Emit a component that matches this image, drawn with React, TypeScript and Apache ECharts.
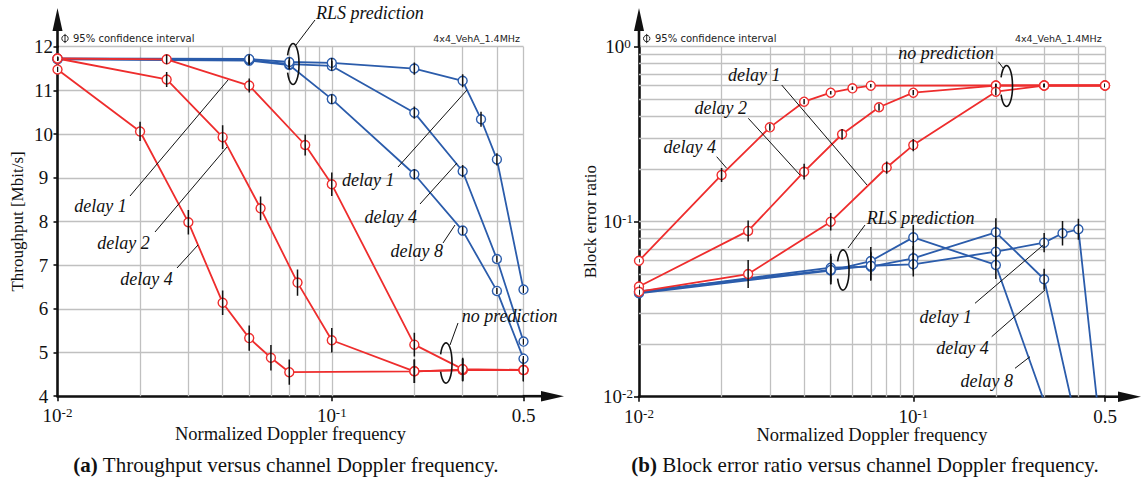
import React, { useEffect, useRef } from 'react';
import * as echarts from 'echarts';

const SERIF = '"Liberation Serif", "Times New Roman", serif';
const SANS = '"DejaVu Sans", Verdana, sans-serif';
const INK = '#111111';
const RED = '#ee2d2d';
const BLUE = '#2b5cab';
const GRID_GRAY = '#c0c0c0';

// Normalized Doppler frequencies of each simulated curve
const freqNoPredDelay1 = [0.01, 0.025, 0.05, 0.08, 0.1, 0.2, 0.3, 0.5];
const freqNoPredDelay2 = [0.01, 0.025, 0.04, 0.055, 0.075, 0.1, 0.2, 0.3, 0.5];
const freqNoPredDelay4 = [0.01, 0.02, 0.03, 0.04, 0.05, 0.06, 0.07, 0.2, 0.3, 0.5];
const freqRlsDelay1 = [0.01, 0.05, 0.07, 0.1, 0.2, 0.3, 0.35, 0.4, 0.5];
const freqRlsDelay4 = [0.01, 0.05, 0.07, 0.1, 0.2, 0.3, 0.4, 0.5];
const freqRlsDelay8 = [0.01, 0.05, 0.07, 0.1, 0.2, 0.3, 0.4, 0.5];

// Throughput [Mbit/s]
const tpNoPredDelay1 = [11.73, 11.71, 11.11, 9.75, 8.85, 5.18, 4.62, 4.6];
const tpNoPredDelay2 = [11.73, 11.25, 9.93, 8.3, 6.6, 5.28, 4.57, 4.6, 4.6];
const tpNoPredDelay4 = [11.48, 10.06, 7.98, 6.14, 5.33, 4.88, 4.55, 4.57, 4.6, 4.6];
const tpRlsDelay1 = [11.73, 11.72, 11.65, 11.63, 11.5, 11.22, 10.34, 9.42, 6.44];
const tpRlsDelay4 = [11.72, 11.7, 11.6, 11.56, 10.49, 9.15, 7.14, 5.25];
const tpRlsDelay8 = [11.71, 11.68, 11.58, 10.8, 9.08, 7.79, 6.41, 4.86];

// Throughput 95% confidence half-widths [Mbit/s]
const tpCiNoPredDelay1 = [0.04, 0.11, 0.16, 0.24, 0.27, 0.27, 0.26, 0.26];
const tpCiNoPredDelay2 = [0.04, 0.17, 0.27, 0.27, 0.3, 0.28, 0.27, 0.26, 0.26];
const tpCiNoPredDelay4 = [0.06, 0.22, 0.28, 0.28, 0.29, 0.29, 0.29, 0.27, 0.26, 0.26];
const tpCiRlsDelay1 = [0.04, 0.1, 0.1, 0.11, 0.14, 0.15, 0.17, 0.14, 0.08];
const tpCiRlsDelay4 = [0.04, 0.1, 0.1, 0.11, 0.14, 0.14, 0.08, 0.07];
const tpCiRlsDelay8 = [0.04, 0.1, 0.1, 0.11, 0.12, 0.1, 0.07, 0.06];

// Block error ratio
const blerNoPredDelay1 = [0.0398, 0.0502, 0.1, 0.204, 0.274, 0.553, 0.6, 0.6];
const blerNoPredDelay2 = [0.0426, 0.0886, 0.193, 0.316, 0.451, 0.546, 0.6, 0.6, 0.6];
const blerNoPredDelay4 = [0.0598, 0.185, 0.346, 0.485, 0.546, 0.578, 0.599, 0.6, 0.6, 0.6];
const blerRlsDelay1 = [0.04, 0.053, 0.056, 0.0571, 0.0674, 0.0759, 0.0859, 0.0905, 0.0036];
const blerRlsDelay4 = [0.0395, 0.0546, 0.0553, 0.0618, 0.087, 0.0469, 0.0063, 0.0035];
const blerRlsDelay8 = [0.039, 0.0526, 0.0596, 0.0814, 0.0566, 0.0094, 0.005, 0.003];

// Block error ratio 95% confidence half-widths, in decades
const blerCiNoPredDelay1 = [0.01, 0.08, 0.05, 0.035, 0.035, 0.02, 0.01, 0.01];
const blerCiNoPredDelay2 = [0.01, 0.06, 0.045, 0.03, 0.02, 0.015, 0.01, 0.01, 0.01];
const blerCiNoPredDelay4 = [0.01, 0.04, 0.02, 0.015, 0.01, 0.01, 0.01, 0.01, 0.01, 0.01];
const blerCiRlsDelay1 = [0.01, 0.08, 0.08, 0.07, 0.08, 0.055, 0.07, 0.06, 0.02];
const blerCiRlsDelay4 = [0.01, 0.08, 0.08, 0.07, 0.08, 0.06, 0.02, 0.02];
const blerCiRlsDelay8 = [0.01, 0.08, 0.08, 0.07, 0.08, 0.02, 0.02, 0.02];

// Grid line positions
const freqGridLines = [0.02, 0.03, 0.04, 0.05, 0.06, 0.07, 0.08, 0.09, 0.1, 0.2, 0.3, 0.4, 0.5];
const blerGridLines = [0.02, 0.03, 0.04, 0.05, 0.06, 0.07, 0.08, 0.09, 0.1, 0.2, 0.3, 0.4, 0.5, 0.6, 0.7, 0.8, 0.9, 1];

// Plot areas (pixels)
const L = { left: 57.5, top: 46.7, width: 466, height: 349.5 };
const R = { left: 639, top: 46.7, width: 466, height: 350 };

// Confidence-interval bracket: an open ellipse, like a curled parenthesis
echarts.graphic.registerShape(
  'ciBracket',
  echarts.graphic.extendPath('M -5.4 -8.7 A 6 20.5 0 1 1 -5.4 8.7', {})
);

const pairs = (xs: number[], ys: number[]) => xs.map((x, i) => [x, ys[i]]);

const curve = (name: string, xs: number[], ys: number[], color: string, axis: number) => ({
  name,
  type: 'line',
  xAxisIndex: axis,
  yAxisIndex: axis,
  data: pairs(xs, ys),
  symbol: 'circle',
  symbolSize: 9,
  showSymbol: true,
  showAllSymbol: true,
  clip: true,
  silent: true,
  z: 3,
  emphasis: { disabled: true },
  lineStyle: { color, width: 1.8 },
  itemStyle: { color: '#ffffff', borderColor: color, borderWidth: 1.4 },
});

const linearBars = (xs: number[], ys: number[], ci: number[]) =>
  xs.map((x, i) => [x, ys[i] - ci[i], ys[i] + ci[i]]);
const logBars = (xs: number[], ys: number[], ci: number[]) =>
  xs.map((x, i) => [x, ys[i] / Math.pow(10, ci[i]), ys[i] * Math.pow(10, ci[i])]);

const errorBars = (data: number[][], axis: number) => ({
  type: 'custom',
  xAxisIndex: axis,
  yAxisIndex: axis,
  data,
  clip: true,
  silent: true,
  z: 4,
  encode: { x: 0, y: [1, 2] },
  renderItem: (_params: any, api: any) => {
    const x = api.value(0);
    const p1 = api.coord([x, api.value(1)]);
    const p2 = api.coord([x, api.value(2)]);
    return {
      type: 'line',
      shape: { x1: p1[0], y1: p1[1], x2: p2[0], y2: p2[1] },
      style: { stroke: INK, lineWidth: 1.5 },
    };
  },
});

const gridLines = (axis: number, xs: number[], ys: number[], anchor: number[]) => ({
  type: 'line',
  xAxisIndex: axis,
  yAxisIndex: axis,
  data: [anchor],
  showSymbol: false,
  silent: true,
  lineStyle: { opacity: 0 },
  z: 1,
  markLine: {
    silent: true,
    z: 1,
    animation: false,
    symbol: ['none', 'none'],
    label: { show: false },
    emphasis: { disabled: true },
    lineStyle: { color: GRID_GRAY, width: 1.3, type: 'solid' },
    data: [...xs.map((v) => ({ xAxis: v })), ...ys.map((v) => ({ yAxis: v }))],
  },
});

const richNumbers = {
  b: { fontSize: 19, fontFamily: SERIF, color: INK, lineHeight: 19 },
  s: { fontSize: 13, fontFamily: SERIF, color: INK, verticalAlign: 'top', lineHeight: 12 },
};

const powerLabel = (v: number) => {
  if (Math.abs(v - 0.5) < 1e-6) return '{b|0.5}';
  const e = Math.round(Math.log10(v));
  return `{b|10}{s|${e}}`;
};

const freqAxis = (gridIndex: number) => ({
  type: 'log',
  logBase: 10,
  gridIndex,
  min: 0.01,
  max: 0.5,
  name: 'Normalized Doppler frequency',
  nameLocation: 'middle',
  nameGap: 29,
  nameMoveOverlap: false,
  nameTextStyle: { fontFamily: SERIF, fontSize: 18.5, color: INK, lineHeight: 18 },
  axisLine: { show: true, onZero: false, lineStyle: { color: INK, width: 2.6 } },
  axisTick: { show: true, length: 5, lineStyle: { color: INK, width: 1.6 } },
  axisLabel: { margin: 10, formatter: powerLabel, rich: richNumbers },
  splitLine: { show: false },
  minorTick: { show: false },
  minorSplitLine: { show: false },
});

const leader = (x1: number, y1: number, x2: number, y2: number) => ({
  type: 'line',
  silent: true,
  z: 20,
  shape: { x1, y1, x2, y2 },
  style: { stroke: INK, lineWidth: 1 },
});

const note = (text: string, x: number, y: number, align = 'center') => ({
  type: 'text',
  silent: true,
  z: 20,
  x,
  y,
  style: {
    text,
    align,
    verticalAlign: 'middle',
    fontFamily: SERIF,
    fontSize: 18,
    fontStyle: 'italic',
    fill: INK,
  },
});

const bracket = (cx: number, cy: number, sy = 1) => ({
  type: 'ciBracket',
  silent: true,
  z: 20,
  x: cx,
  y: cy,
  scaleY: sy,
  style: { fill: 'none', stroke: INK, lineWidth: 1.6, strokeNoScale: true },
});

const smallText = (text: string, x: number, y: number, align = 'left', size = 9.5) => ({
  type: 'text',
  silent: true,
  z: 20,
  x,
  y,
  style: { text, align, verticalAlign: 'middle', fontFamily: SANS, fontSize: size, fill: '#222' },
});

const ciIcon = (x: number, y: number) => [
  { type: 'circle', silent: true, z: 20, shape: { cx: x, cy: y, r: 3.2 }, style: { fill: 'none', stroke: '#222', lineWidth: 1 } },
  { type: 'line', silent: true, z: 20, shape: { x1: x, y1: y - 4.6, x2: x, y2: y + 4.6 }, style: { stroke: '#222', lineWidth: 1 } },
];

const axisArrows = (g: { left: number; top: number; width: number; height: number }, xTip: number) => {
  const bottom = g.top + g.height;
  const right = g.left + g.width;
  return [
    { type: 'line', silent: true, z: 20, shape: { x1: g.left, y1: g.top + 1, x2: g.left, y2: 28 }, style: { stroke: INK, lineWidth: 2.6 } },
    { type: 'polygon', silent: true, z: 20, shape: { points: [[g.left, 8], [g.left - 5, 31], [g.left + 5, 31]] }, style: { fill: INK } },
    { type: 'line', silent: true, z: 20, shape: { x1: right - 1, y1: bottom, x2: xTip - 20, y2: bottom }, style: { stroke: INK, lineWidth: 2.6 } },
    { type: 'polygon', silent: true, z: 20, shape: { points: [[xTip, bottom], [xTip - 23, bottom - 5.3], [xTip - 23, bottom + 5.3]] }, style: { fill: INK } },
  ];
};

const caption = (tag: string, text: string, x: number, y: number) => ({
  type: 'text',
  silent: true,
  z: 20,
  x,
  y,
  style: {
    text: `{t|${tag}} ${text}`,
    align: 'center',
    verticalAlign: 'middle',
    fontFamily: SERIF,
    fontSize: 21,
    fill: INK,
    rich: { t: { fontFamily: SERIF, fontSize: 21, fontWeight: 'bold', fill: INK } },
  },
});

const option = {
  animation: false,
  backgroundColor: '#ffffff',
  textStyle: { fontFamily: SERIF },
  grid: [
    { ...L, containLabel: false },
    { ...R, containLabel: false },
  ],
  xAxis: [freqAxis(0), freqAxis(1)],
  yAxis: [
    {
      type: 'value',
      gridIndex: 0,
      min: 4,
      max: 12,
      interval: 1,
      name: 'Throughput [Mbit/s]',
      nameLocation: 'middle',
      nameGap: 32,
      nameTextStyle: { fontFamily: SERIF, fontSize: 17, color: INK },
      axisLine: { show: true, lineStyle: { color: INK, width: 2.6 } },
      axisTick: { show: true, length: 4, lineStyle: { color: INK, width: 1.6 } },
      axisLabel: { align: 'center', margin: 14, fontFamily: SERIF, fontSize: 19, color: INK },
      splitLine: { show: true, lineStyle: { color: GRID_GRAY, width: 1.3 } },
    },
    {
      type: 'log',
      logBase: 10,
      gridIndex: 1,
      min: 0.01,
      max: 1,
      name: 'Block error ratio',
      nameLocation: 'middle',
      nameGap: 38,
      nameTextStyle: { fontFamily: SERIF, fontSize: 17, color: INK },
      axisLine: { show: true, onZero: false, lineStyle: { color: INK, width: 2.6 } },
      axisTick: { show: true, length: 5, lineStyle: { color: INK, width: 1.6 } },
      axisLabel: { align: 'center', margin: 21, formatter: powerLabel, rich: richNumbers },
      splitLine: { show: false },
      minorTick: { show: false },
      minorSplitLine: { show: false },
    },
  ],
  series: [
    gridLines(0, freqGridLines, [], [0.01, 4]),
    gridLines(1, freqGridLines, blerGridLines, [0.01, 0.01]),

    curve('RLS delay 8', freqRlsDelay8, tpRlsDelay8, BLUE, 0),
    curve('RLS delay 4', freqRlsDelay4, tpRlsDelay4, BLUE, 0),
    curve('RLS delay 1', freqRlsDelay1, tpRlsDelay1, BLUE, 0),
    curve('no prediction delay 4', freqNoPredDelay4, tpNoPredDelay4, RED, 0),
    curve('no prediction delay 2', freqNoPredDelay2, tpNoPredDelay2, RED, 0),
    curve('no prediction delay 1', freqNoPredDelay1, tpNoPredDelay1, RED, 0),
    errorBars(
      [
        ...linearBars(freqRlsDelay8, tpRlsDelay8, tpCiRlsDelay8),
        ...linearBars(freqRlsDelay4, tpRlsDelay4, tpCiRlsDelay4),
        ...linearBars(freqRlsDelay1, tpRlsDelay1, tpCiRlsDelay1),
        ...linearBars(freqNoPredDelay4, tpNoPredDelay4, tpCiNoPredDelay4),
        ...linearBars(freqNoPredDelay2, tpNoPredDelay2, tpCiNoPredDelay2),
        ...linearBars(freqNoPredDelay1, tpNoPredDelay1, tpCiNoPredDelay1),
      ],
      0
    ),

    curve('RLS delay 8', freqRlsDelay8, blerRlsDelay8, BLUE, 1),
    curve('RLS delay 4', freqRlsDelay4, blerRlsDelay4, BLUE, 1),
    curve('RLS delay 1', freqRlsDelay1, blerRlsDelay1, BLUE, 1),
    curve('no prediction delay 4', freqNoPredDelay4, blerNoPredDelay4, RED, 1),
    curve('no prediction delay 2', freqNoPredDelay2, blerNoPredDelay2, RED, 1),
    curve('no prediction delay 1', freqNoPredDelay1, blerNoPredDelay1, RED, 1),
    errorBars(
      [
        ...logBars(freqRlsDelay8, blerRlsDelay8, blerCiRlsDelay8),
        ...logBars(freqRlsDelay4, blerRlsDelay4, blerCiRlsDelay4),
        ...logBars(freqRlsDelay1, blerRlsDelay1, blerCiRlsDelay1),
        ...logBars(freqNoPredDelay4, blerNoPredDelay4, blerCiNoPredDelay4),
        ...logBars(freqNoPredDelay2, blerNoPredDelay2, blerCiNoPredDelay2),
        ...logBars(freqNoPredDelay1, blerNoPredDelay1, blerCiNoPredDelay1),
      ],
      1
    ),
  ],
  graphic: {
    elements: [
      ...axisArrows(L, 564),
      ...axisArrows(R, 1141),

      // throughput panel
      ...ciIcon(65, 38.5),
      smallText('95% confidence interval', 73, 38.5, 'left', 10),
      smallText('4x4_VehA_1.4MHz', 520, 38.5, 'right'),
      note('RLS prediction', 316, 13, 'left'),
      leader(315, 20, 296, 45),
      bracket(293, 64),
      note('delay 1', 100.5, 205.7),
      leader(130, 196, 228, 80),
      note('delay 2', 123.5, 243.3),
      leader(155, 232, 227, 147),
      note('delay 4', 146.5, 279.3),
      leader(177, 268, 198, 245),
      note('delay 1', 368.3, 180),
      leader(398, 167, 467, 90),
      note('delay 4', 390.8, 216.7),
      leader(420, 204, 457, 163),
      note('delay 8', 416.7, 251),
      leader(443, 243, 455, 225),
      note('no prediction', 461.7, 316, 'left'),
      leader(458, 323, 450, 345),
      bracket(446, 363, 0.98),
      caption('(a)', 'Throughput versus channel Doppler frequency.', 286, 465),

      // block error ratio panel
      ...ciIcon(646.7, 38.5),
      smallText('95% confidence interval', 655, 38.5, 'left', 10),
      smallText('4x4_VehA_1.4MHz', 1101.7, 38.5, 'right'),
      note('delay 1', 754.3, 75),
      leader(781.7, 85, 867, 185),
      note('delay 2', 720.8, 108.3),
      leader(748.3, 118.3, 800, 175),
      note('delay 4', 689.8, 146.7),
      leader(716.7, 156.7, 726.7, 168.3),
      note('no prediction', 898.3, 52.7, 'left'),
      leader(998.3, 61.7, 1003.3, 68.3),
      bracket(1006.5, 86),
      note('RLS prediction', 866.7, 218.3, 'left'),
      leader(865, 225, 848, 248),
      bracket(843, 270, 0.98),
      note('delay 1', 945.8, 316.7),
      leader(975, 303.3, 1043.3, 245),
      note('delay 4', 962.5, 348.3),
      leader(991.7, 336.7, 1045, 290),
      note('delay 8', 986.7, 381),
      leader(1015, 368.3, 1030, 356.7),
      caption('(b)', 'Block error ratio versus channel Doppler frequency.', 865, 465),
    ],
  },
};

export default function App() {
  const ref = useRef<HTMLDivElement>(null);
  useEffect(() => {
    if (!ref.current) return;
    const chart = echarts.init(ref.current, undefined, { renderer: 'svg', width: 1141, height: 480 });
    chart.setOption(option as any);
    return () => chart.dispose();
  }, []);
  return (
    <div
      ref={ref}
      style={{ position: 'absolute', left: 0, top: 0, width: 1141, height: 480, background: '#ffffff' }}
    />
  );
}
